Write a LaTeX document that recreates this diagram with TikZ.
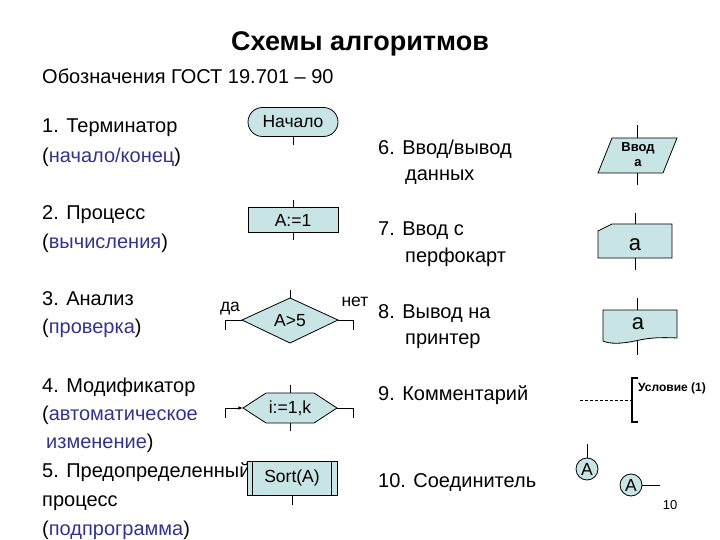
\documentclass[tikz,border=0pt]{standalone}
\usepackage{fontspec}
\setmainfont{Liberation Sans}
\definecolor{fillc}{RGB}{200,228,228}
\definecolor{hl}{RGB}{51,51,140}
\begin{document}
\begin{tikzpicture}[x=1pt,y=-1pt,
  shp/.style={draw=black,fill=fillc,line width=0.8pt},
  ld/.style={line width=0.6pt},
  txt/.style={anchor=base west,inner sep=0pt,font=\fontsize{20}{22}\selectfont},
  lab/.style={inner sep=0pt,font=\fontsize{17.5}{19}\selectfont},
  biga/.style={inner sep=0pt,font=\fontsize{22}{24}\selectfont}]
\useasboundingbox (0,0) rectangle (720,540);
\node[inner sep=0pt,font=\fontsize{27}{30}\selectfont\bfseries] (title) at (360,44) {Схемы алгоритмов};
\node[txt] (gost) at (42,84) {Обозначения ГОСТ 19.701 – 90};
% left texts
\node[txt] (t1a) at (42,133) {1. Терминатор};
\node[txt] (t1b) at (42,163) {(\textcolor{hl}{начало/конец})};
\node[txt] (t2a) at (42,220) {2. Процесс};
\node[txt] (t2b) at (42,248) {(\textcolor{hl}{вычисления})};
\node[txt] (t3a) at (42,305) {3. Анализ};
\node[txt] (t3b) at (42,333) {(\textcolor{hl}{проверка})};
\node[txt] (t4a) at (42,392) {4. Модификатор};
\node[txt] (t4b) at (42,420) {(\textcolor{hl}{автоматическое}};
\node[txt] (t4c) at (46,448) {\textcolor{hl}{изменение})};
\node[txt] (t5a) at (42,477) {5. Предопределенный};
\node[txt] (t5b) at (42,506) {процесс};
\node[txt] (t5c) at (42,535) {(\textcolor{hl}{подпрограмма})};
% right texts
\node[txt] (t6a) at (378,155) {6. Ввод/вывод};
\node[txt] (t6b) at (405,181) {данных};
\node[txt] (t7a) at (378,236) {7. Ввод с};
\node[txt] (t7b) at (405,262) {перфокарт};
\node[txt] (t8a) at (378,318) {8. Вывод на};
\node[txt] (t8b) at (405,344) {принтер};
\node[txt] (t9) at (378,400) {9. Комментарий};
\node[txt] (t10) at (378,487) {10. Соединитель};
% terminator
\node[shp,rounded corners=14.5pt,minimum width=90pt,minimum height=29pt,lab] (term) at (293,122) {Начало};
\coordinate (termb) at (293,145);
\draw[ld] (term.south) -- (termb);
% process
\node[shp,minimum width=90pt,minimum height=25pt,lab] (proc) at (293,220) {A:=1};
\coordinate (proct) at (293,200); \coordinate (procb) at (293,240);
\draw[ld] (proct) -- (proc.north); \draw[ld] (proc.south) -- (procb);
% diamond
\draw[shp] (242,320) coordinate (dl) -- (290,298) coordinate (dt) -- (338,320) coordinate (dr) -- (290,343) coordinate (db) -- cycle;
\node[lab] (dtext) at (290,321) {A>5};
\coordinate (dtt) at (290,290);
\draw[ld] (dtt) -- (dt);
\coordinate (dll) at (225,320); \coordinate (dll2) at (225,330);
\draw[ld] (dl) -- (dll) -- (dll2);
\coordinate (drr) at (353,320); \coordinate (drr2) at (353,330);
\draw[ld] (dr) -- (drr) -- (drr2);
\node[lab] (da) at (230,309) {да};
\node[lab] (net) at (355,302) {нет};
% hexagon
\draw[shp] (243,408) coordinate (hl) -- (266,393) -- (314,393) -- (337,408) coordinate (hr) -- (314,423) -- (266,423) -- cycle;
\node[lab] (htext) at (290,408) {i:=1,k};
\coordinate (ht) at (290,385); \coordinate (hb) at (290,431);
\draw[ld] (ht) -- (290,393); \draw[ld] (290,423) -- (hb);
\coordinate (hll) at (225,408); \coordinate (hll2) at (225,418);
\draw[ld,-latex] (hll2) -- (hll) -- (hl);
\coordinate (hrr) at (353,408); \coordinate (hrr2) at (353,418);
\draw[ld] (hr) -- (hrr) -- (hrr2);
% predefined
\node[shp,minimum width=90pt,minimum height=34pt,lab] (sort) at (292,478) {Sort(A)};
\draw[ld] ([xshift=6pt]sort.north west) -- ([xshift=6pt]sort.south west);
\draw[ld] ([xshift=-6pt]sort.north east) -- ([xshift=-6pt]sort.south east);
\coordinate (sb) at (292,505);
\draw[ld] (sort.south) -- (sb);
% io parallelogram
\draw[shp] (598,173) -- (612,138) -- (677,138) -- (663,173) -- cycle;
\node[inner sep=0pt,font=\fontsize{13}{15}\selectfont\bfseries,align=center] (io) at (638,155) {Ввод\\а};
\coordinate (iot) at (637,125); \coordinate (iob) at (637,185);
\draw[ld] (iot) -- (637,138); \draw[ld] (637,173) -- (iob);
% card
\draw[shp] (598,231) -- (612,224) -- (672,224) -- (672,258) -- (598,258) -- cycle;
\node[biga] (card) at (635,245) {a};
\coordinate (ct) at (635,213); \coordinate (cb) at (635,270);
\draw[ld] (ct) -- (635,224); \draw[ld] (635,258) -- (cb);
% printer
\draw[shp] (603,310) -- (677,310) -- (677,338) .. controls (658,337) and (648,338) .. (635,341) .. controls (620,344) and (610,344) .. (603,341) -- cycle;
\node[biga] (pr) at (638,324) {a};
\coordinate (pt) at (637,298); \coordinate (pb) at (637,355);
\draw[ld] (pt) -- (637,310); \draw[ld] (637,341) -- (pb);
% comment
\coordinate (cm1) at (580,400); \coordinate (cm2) at (632,400);
\draw[ld,dash pattern=on 3pt off 2pt] (cm1) -- (cm2);
\draw[line width=1.4pt] (638,378) -- (632,378) -- (632,422) -- (638,422);
\node[anchor=west,inner sep=0pt,font=\fontsize{12}{14}\selectfont\bfseries] (cond) at (638,388) {Условие (1)};
% connectors
\node[shp,circle,minimum size=22pt,inner sep=0pt,lab] (ca) at (587,469) {A};
\coordinate (cat) at (587,444);
\draw[ld] (cat) -- (ca.north);
\node[shp,circle,minimum size=22pt,inner sep=0pt,lab] (cb2) at (631,485) {A};
\coordinate (cbr) at (660,485);
\draw[ld] (cb2.east) -- (cbr);
\node[inner sep=0pt,font=\fontsize{13}{15}\selectfont] (num) at (670,505) {10};
\end{tikzpicture}
\end{document}
